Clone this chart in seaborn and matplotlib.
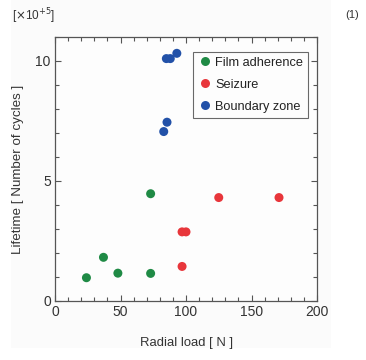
import matplotlib
matplotlib.use("Agg")
import matplotlib.pyplot as plt
from matplotlib.patches import Rectangle
from matplotlib.ticker import MultipleLocator
import seaborn as sns
import pandas as pd

# Radial load [N] and lifetime [x10^5 cycles] for each failure regime
film_load = [24, 37, 48, 73, 73]
film_life = [0.97, 1.82, 1.16, 1.15, 4.47]
seizure_load = [97, 100, 97, 125, 171]
seizure_life = [2.88, 2.88, 1.44, 4.31, 4.31]
boundary_load = [85, 88, 93, 85.5, 83]
boundary_life = [10.1, 10.1, 10.32, 7.45, 7.06]

categories = ["Film adherence", "Seizure", "Boundary zone"]
colors = ["#1f8a45", "#e8363b", "#2251a8"]

df = pd.DataFrame({
    "load": film_load + seizure_load + boundary_load,
    "life": film_life + seizure_life + boundary_life,
    "regime": [categories[0]] * len(film_load)
    + [categories[1]] * len(seizure_load)
    + [categories[2]] * len(boundary_load),
})

sns.set_style("ticks")
plt.rcParams["font.family"] = ["Liberation Sans", "DejaVu Sans"]

fig = plt.figure(figsize=(3.66, 3.60), dpi=100)
fig.patches.append(Rectangle((11 / 366, 12 / 360), 320 / 366, 348 / 360,
                             transform=fig.transFigure, facecolor="#fbfbfb",
                             edgecolor="none", zorder=-10))
ax = fig.add_axes([55 / 366, 59 / 360, 262 / 366, 264 / 360])
ax.set_facecolor("#fdfdfd")

sns.scatterplot(data=df, x="load", y="life", hue="regime", hue_order=categories,
                palette=colors, s=42, linewidth=0, ax=ax, legend=True)

ax.set_xlim(0, 200)
ax.set_ylim(0, 11)
ax.xaxis.set_major_locator(MultipleLocator(50))
ax.xaxis.set_minor_locator(MultipleLocator(10))
ax.yaxis.set_major_locator(MultipleLocator(5))
ax.yaxis.set_minor_locator(MultipleLocator(1))
ax.tick_params(which="both", direction="in", top=True, right=True,
               color="#555555", labelcolor="#333333", labelsize=10, width=0.8)
ax.tick_params(which="major", length=4, pad=3)
ax.tick_params(which="minor", length=3)
for sp in ax.spines.values():
    sp.set_visible(True)
    sp.set_color("#555555")
    sp.set_linewidth(0.9)

ax.set_xlabel("Radial load [ N ]", fontsize=9.4, color="#333333", labelpad=13)
ax.set_ylabel("Lifetime [ Number of cycles ]", fontsize=9.6, color="#333333", labelpad=8)

leg = ax.legend(loc="upper right", bbox_to_anchor=(0.966, 0.945), title=None,
                fontsize=9.2, frameon=True, fancybox=False, handletextpad=0.3,
                borderpad=0.4, labelspacing=0.78, handlelength=1.0,
                borderaxespad=0.0)
leg.get_frame().set_edgecolor("#444444")
leg.get_frame().set_linewidth(0.8)
leg.get_frame().set_facecolor("#fdfdfd")
for t in leg.get_texts():
    t.set_color("#222222")

fig.text(12 / 366, 1 - 16 / 360, r"[$\times$10$^{+5}$]", fontsize=8.5,
         color="#333333", va="center", ha="left")
fig.text(345 / 366, 1 - 15 / 360, "(1)", fontsize=8, color="#333333",
         va="center", ha="left")

fig.savefig("out.png", dpi=100)
